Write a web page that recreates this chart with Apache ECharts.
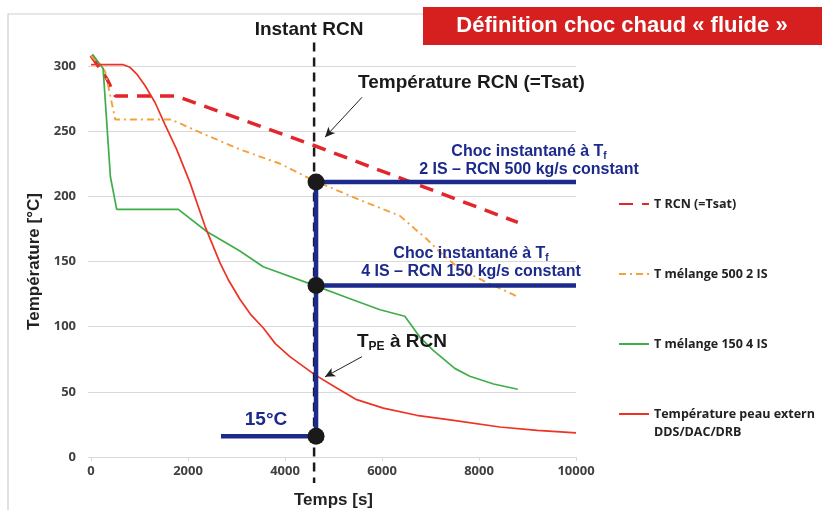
<!DOCTYPE html>
<html>
<head>
<meta charset="utf-8">
<script src="https://cdn.jsdelivr.net/npm/echarts@6/dist/echarts.min.js"></script>
<style>
html,body{margin:0;padding:0;background:#fff;}
#chart{width:822px;height:510px;}
</style>
</head>
<body>
<div id="chart"></div>
<script>
// ---- Data ----
const seriesNames = ['T RCN (=Tsat)', 'T mélange 500 2 IS', 'T mélange 150 4 IS', 'Température peau extern\nDDS/DAC/DRB'];

const rcnT = [0, 330, 500, 1750, 4600, 8800];
const rcnV = [308, 290, 277, 277, 239, 180];

const mel500T = [0, 290, 500, 1650, 2250, 3070, 3900, 4600, 5690, 6370, 6680, 6930, 7200, 7610, 8160, 8800];
const mel500V = [308, 296, 259, 259, 249, 236, 225, 212, 195, 185, 175, 167, 157, 144, 134, 123];

const mel150T = [30, 250, 400, 530, 1800, 2385, 3070, 3550, 4620, 5300, 5960, 6470, 6780, 7050, 7500, 7810, 8300, 8800];
const mel150V = [309, 298, 215, 190, 190, 173, 158, 146, 131.5, 122, 113, 108, 92, 82, 68, 62, 56, 52];

const peauT = [0, 666, 804, 940, 1113, 1320, 1526, 1766, 2041, 2351, 2660, 2831, 3070, 3300, 3553, 3800, 4100, 4620, 5066, 5478, 6027, 6715, 7402, 8430, 9200, 10000];
const peauV = [301, 301, 299, 294, 285, 272, 255, 236, 210.5, 177, 149, 136, 121, 109, 99, 87, 77, 63, 53, 44, 37.5, 32, 28.5, 23, 20.5, 18.5];

// Instant RCN and shock definition
const instantRCN = 4600;
const instantSpan = [318, -20];
const chocX = 4640;
const chocT500 = 211;
const chocT150 = 131.5;
const chocT15 = 16;
const chocStartX = 2680;
const chocEndX = 10000;
// annotation arrows [from, to]
const arrowRCN = [[5588, 276], [4825, 245.4]];
const arrowTPE = [[5588, 77], [4825, 61.5]];

const yTicks = { min: 0, max: 300, interval: 50 };
const xTicks = { min: 0, max: 10000, interval: 2000 };

// ---- Helpers ----
const zip = (t, v) => t.map((x, i) => [x, v[i]]);
const NAVY = '#1c2a8c';
const FONT = 'Liberation Sans';

const chart = echarts.init(document.getElementById('chart'), null, { renderer: 'canvas' });

const legendBase = {
  left: 613, itemWidth: 30, itemHeight: 14, selectedMode: false,
  itemStyle: { opacity: 0 },
  formatter: (n) => n.indexOf('\n') >= 0 ? ' \n' + n : n,
  textStyle: { fontFamily: 'Open Sans', fontWeight: 'bold', fontSize: 12.5, color: '#222', lineHeight: 18 }
};

const option = {
  animation: false,
  backgroundColor: '#fff',
  grid: { left: 91, right: 246, top: 66, bottom: 53, containLabel: false, outerBoundsMode: 'none' },
  xAxis: {
    type: 'value', min: xTicks.min, max: xTicks.max, interval: xTicks.interval,
    name: 'Temps [s]', nameLocation: 'middle', nameGap: 35,
    nameTextStyle: { fontFamily: FONT, fontWeight: 'bold', fontSize: 17, color: '#222' },
    axisLine: { show: true, lineStyle: { color: '#d9d9d9', width: 1 } },
    axisTick: { show: true, length: 4, lineStyle: { color: '#d9d9d9' } },
    splitLine: { show: false },
    axisLabel: { fontFamily: 'Open Sans', fontWeight: 'bold', fontSize: 13, color: '#404040', margin: 8,
      formatter: (v) => String(v) }
  },
  yAxis: {
    type: 'value', min: yTicks.min, max: yTicks.max, interval: yTicks.interval,
    name: 'Température [°C]', nameLocation: 'middle', nameGap: 39,
    nameTextStyle: { fontFamily: FONT, fontWeight: 'bold', fontSize: 17, color: '#222' },
    axisLine: { show: false },
    axisTick: { show: true, length: 3, lineStyle: { color: '#d9d9d9' } },
    splitLine: { show: true, lineStyle: { color: '#d9d9d9', width: 1 } },
    axisLabel: { fontFamily: 'Open Sans', fontWeight: 'bold', fontSize: 13, color: '#404040', margin: 15,
      formatter: (v) => String(v) }
  },
  legend: [
    Object.assign({}, legendBase, { top: 190, data: [seriesNames[0]] }),
    Object.assign({}, legendBase, { top: 260, data: [seriesNames[1]] }),
    Object.assign({}, legendBase, { top: 330, data: [seriesNames[2]] }),
    Object.assign({}, legendBase, { top: 382, data: [seriesNames[3]] })
  ],
  series: [
    {
      name: seriesNames[0], type: 'line', data: zip(rcnT, rcnV), symbol: 'none', clip: false, z: 3,
      lineStyle: { color: '#e3262b', width: 3.5, type: [14, 9] }, itemStyle: { color: '#e3262b' }
    },
    {
      name: seriesNames[1], type: 'line', data: zip(mel500T, mel500V), symbol: 'none', clip: false, z: 3,
      lineStyle: { color: '#f5a13a', width: 1.9, type: [7, 4, 2, 4] }, itemStyle: { color: '#f5a13a' }
    },
    {
      name: seriesNames[2], type: 'line', data: zip(mel150T, mel150V), symbol: 'none', clip: false, z: 3,
      lineStyle: { color: '#3fae49', width: 1.7 }, itemStyle: { color: '#3fae49' }
    },
    {
      name: seriesNames[3], type: 'line', data: zip(peauT, peauV), symbol: 'none', clip: false, z: 3,
      lineStyle: { color: '#ee3224', width: 1.7 }, itemStyle: { color: '#ee3224' }
    },
    {
      name: 'Instant RCN', type: 'line', symbol: 'none', clip: false, z: 4, silent: true,
      data: [[instantRCN, instantSpan[0]], [instantRCN, instantSpan[1]]],
      lineStyle: { color: '#1a1a1a', width: 2.5, type: [9, 6] },
      markLine: {
        silent: true, symbol: ['none', 'arrow'], symbolSize: [7, 10], label: { show: false },
        lineStyle: { color: '#222', width: 1, type: 'solid' },
        data: [
          [{ coord: arrowRCN[0] }, { coord: arrowRCN[1] }],
          [{ coord: arrowTPE[0] }, { coord: arrowTPE[1] }]
        ]
      }
    },
    {
      name: 'Choc 2 IS', type: 'line', symbol: 'none', clip: false, z: 5, silent: true,
      data: [[chocStartX, chocT15], [chocX, chocT15], [chocX, chocT500], [chocEndX, chocT500]],
      lineStyle: { color: NAVY, width: 4.5 }
    },
    {
      name: 'Choc 4 IS', type: 'line', symbol: 'none', clip: false, z: 5, silent: true,
      data: [[chocX, chocT150], [chocEndX, chocT150]],
      lineStyle: { color: NAVY, width: 4.5 }
    },
    {
      name: 'Points', type: 'scatter', z: 6, silent: true, symbolSize: 17,
      data: [[chocX, chocT500], [chocX, chocT150], [chocX, chocT15]],
      itemStyle: { color: '#1a1a1a', opacity: 1 }
    }
  ],
  graphic: [
    { type: 'rect', z: -10, silent: true, shape: { x: 8, y: 14, width: 900, height: 600 },
      style: { fill: 'none', stroke: '#cfcfcf', lineWidth: 1.2 } },
    { type: 'rect', z: 100, silent: true, shape: { x: 423, y: 7, width: 405, height: 38 },
      style: { fill: '#d6201f' } },
    { type: 'text', z: 101, silent: true, x: 622, y: 26,
      style: { text: 'Définition choc chaud « fluide »', fill: '#fff', fontFamily: FONT, fontWeight: 'bold', fontSize: 22, align: 'center', verticalAlign: 'middle' } },
    { type: 'text', z: 50, silent: true, x: 309, y: 30,
      style: { text: 'Instant RCN', fill: '#1a1a1a', fontFamily: FONT, fontWeight: 'bold', fontSize: 19, align: 'center', verticalAlign: 'middle' } },
    { type: 'text', z: 50, silent: true, x: 358, y: 83,
      style: { text: 'Température RCN (=Tsat)', fill: '#1a1a1a', fontFamily: FONT, fontWeight: 'bold', fontSize: 19, align: 'left', verticalAlign: 'middle' } },
    { type: 'text', z: 50, silent: true, x: 529, y: 161,
      style: { text: 'Choc instantané à T{sub|f}\n2 IS – RCN 500 kg/s constant', fill: NAVY, fontFamily: FONT, fontWeight: 'bold', fontSize: 16, lineHeight: 18, align: 'center', verticalAlign: 'middle',
        rich: { sub: { fontFamily: FONT, fontWeight: 'bold', fontSize: 10, fill: NAVY, verticalAlign: 'bottom', lineHeight: 12 } } } },
    { type: 'text', z: 50, silent: true, x: 471, y: 263,
      style: { text: 'Choc instantané à T{sub|f}\n4 IS – RCN 150 kg/s constant', fill: NAVY, fontFamily: FONT, fontWeight: 'bold', fontSize: 16, lineHeight: 18, align: 'center', verticalAlign: 'middle',
        rich: { sub: { fontFamily: FONT, fontWeight: 'bold', fontSize: 10, fill: NAVY, verticalAlign: 'bottom', lineHeight: 12 } } } },
    { type: 'text', z: 50, silent: true, x: 357, y: 342,
      style: { text: 'T{sub|PE} à RCN', fill: '#1a1a1a', fontFamily: FONT, fontWeight: 'bold', fontSize: 19, lineHeight: 22, align: 'left', verticalAlign: 'middle',
        rich: { sub: { fontFamily: FONT, fontWeight: 'bold', fontSize: 12, fill: '#1a1a1a', verticalAlign: 'bottom', lineHeight: 14 } } } },
    { type: 'text', z: 50, silent: true, x: 266, y: 420,
      style: { text: '15°C', fill: NAVY, fontFamily: FONT, fontWeight: 'bold', fontSize: 19, align: 'center', verticalAlign: 'middle' } }
  ]
};

chart.setOption(option);
</script>
</body>
</html>
